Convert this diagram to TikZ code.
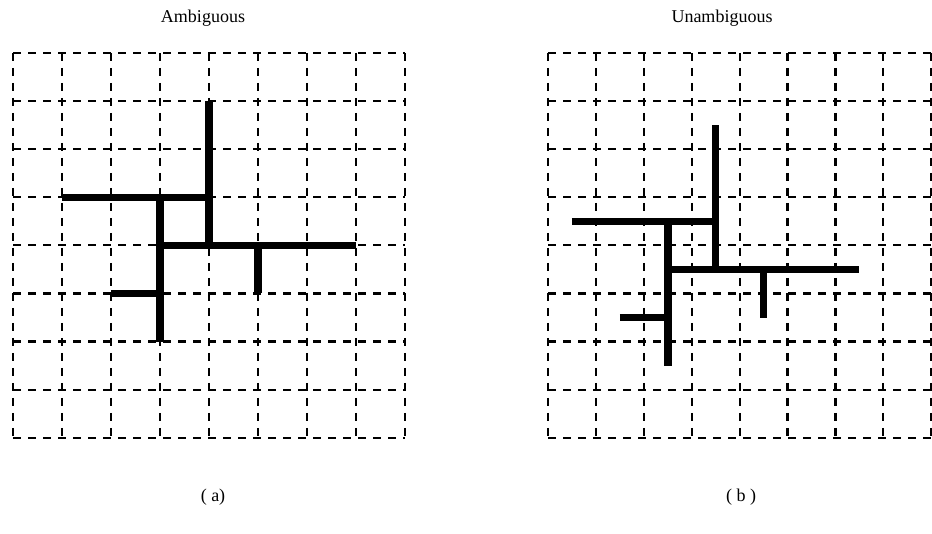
\documentclass[tikz,border=0pt]{standalone}
\usepackage{fontspec}
\setmainfont{Liberation Serif}
\tikzset{
    gridline/.style={line width=2.2pt, dash pattern=on 8pt off 7pt},
    wall/.style={line width=7.5pt, line cap=butt},
    caption/.style={font=\fontsize{18}{21}\selectfont}
}
\begin{document}
\begin{tikzpicture}[x=1pt, y=-1pt]
  \useasboundingbox (0,0) rectangle (932,534);
  \node[caption] (ambig) at (203,18) {Ambiguous};
  \node[caption] (unambig) at (722,18) {Unambiguous};
  \node[caption] (lbla) at (213,497) {( a)};
  \node[caption] (lblb) at (741,497) {( b )};
  % left grid, walls on the grid lines
  \begin{scope}[shift={(13,53)}, x=49pt, y=-48.1pt]
    \foreach \i in {0,...,8} {
      \draw[gridline] (\i,0) -- (\i,8);
      \draw[gridline] (0,\i) -- (8,\i);
    }
    \draw[wall] (1,3) -- (4,3);
    \draw[wall] (4,1) -- (4,4);
    \draw[wall] (3,3) -- (3,6);
    \draw[wall] (3,4) -- (7,4);
    \draw[wall] (5,4) -- (5,5);
    \draw[wall] (2,5) -- (3,5);
  \end{scope}
  % right grid, walls between the grid lines
  \begin{scope}[shift={(548,53)}, x=47.9pt, y=-48.1pt]
    \foreach \i in {0,...,8} {
      \draw[gridline] (\i,0) -- (\i,8);
      \draw[gridline] (0,\i) -- (8,\i);
    }
    \draw[wall] (0.5,3.5) -- (3.5,3.5);
    \draw[wall] (3.5,1.5) -- (3.5,4.5);
    \draw[wall] (2.5,3.5) -- (2.5,6.5);
    \draw[wall] (2.5,4.5) -- (6.5,4.5);
    \draw[wall] (4.5,4.5) -- (4.5,5.5);
    \draw[wall] (1.5,5.5) -- (2.5,5.5);
  \end{scope}
\end{tikzpicture}
\end{document}
